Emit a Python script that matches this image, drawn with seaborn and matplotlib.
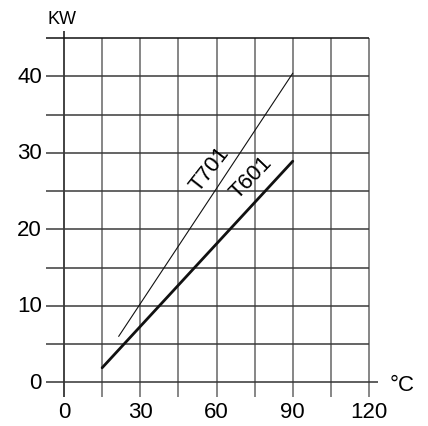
import matplotlib
matplotlib.use("Agg")
import matplotlib.pyplot as plt
import seaborn as sns
import pandas as pd

# data
x_ticks = [0, 30, 60, 90, 120]
y_ticks = [0, 10, 20, 30, 40]
x_grid = [0, 15, 30, 45, 60, 75, 90, 105, 120]
y_grid = [5, 10, 15, 20, 25, 30, 35, 40, 45]

t701_temp = [21.5, 90]
t701_kw = [6.0, 40.4]
t601_temp = [15, 90]
t601_kw = [1.9, 28.9]

sns.set_theme(style="white")
plt.rcParams['font.family'] = ['Liberation Sans', 'DejaVu Sans']

fig = plt.figure(figsize=(4.28, 4.27), dpi=100)
ax = fig.add_axes([0, 0, 1, 1])

# grid
ax.vlines(x_grid[1:], -1.9, 45, color='#666666', lw=1.1)
ax.vlines(0, -1.9, 45.9, color='#222222', lw=1.2)
ax.hlines(y_grid[:-1], -7.1, 120, color='#3a3a3a', lw=1.1)
ax.hlines(45, -7.1, 120, color='#111111', lw=1.1)
ax.hlines(0, -7.1, 123.5, color='#333333', lw=1.1)

df701 = pd.DataFrame({'temp': t701_temp, 'kw': t701_kw})
df601 = pd.DataFrame({'temp': t601_temp, 'kw': t601_kw})
sns.lineplot(data=df701, x='temp', y='kw', ax=ax, color='#111111', lw=0.8)
sns.lineplot(data=df601, x='temp', y='kw', ax=ax, color='#111111', lw=2.0)
ax.axis('off')
ax.set_xlim(-25.18, 143.2)
ax.set_ylim(-5.71, 50.1)

for v in y_ticks:
    ax.text(-8.7, v, str(v), ha='right', va='center', fontsize=16, color='black')
for v in x_ticks:
    ax.text(v, -3.75, str(v), ha='center', va='center', fontsize=16, color='black')

ax.text(-0.8, 47.6, 'KW', ha='center', va='center', fontsize=13, color='black')
ax.text(128.0, -0.3, '°C', ha='left', va='center', fontsize=16, color='black')

ax.text(57.3, 28.0, 'T701', rotation=52, ha='center', va='center',
        fontsize=16, color='black', rotation_mode='anchor')
ax.text(73.8, 26.9, 'T601', rotation=46, ha='center', va='center',
        fontsize=16, color='black', rotation_mode='anchor')

fig.savefig('out.png', dpi=100)
